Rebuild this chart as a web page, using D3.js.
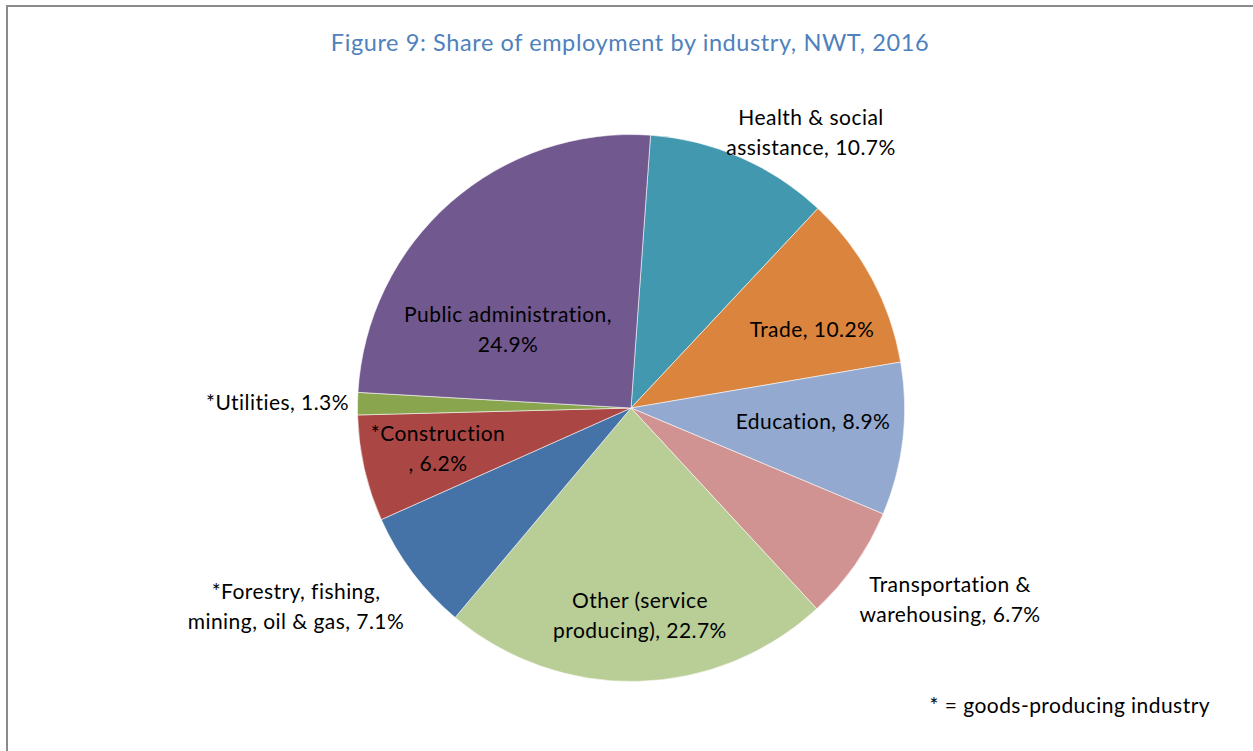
<!DOCTYPE html>
<html>
<head>
<meta charset="utf-8">
<script src="https://cdn.jsdelivr.net/npm/d3@7"></script>
<style>
  html, body { margin: 0; padding: 0; background: white; overflow: hidden; }
  text { font-family: Lato, "Open Sans", sans-serif; }
</style>
</head>
<body>
<svg></svg>
<script>
// data
const industries = [
  "Health & social assistance", "Trade", "Education", "Transportation & warehousing",
  "Other (service producing)", "*Forestry, fishing, mining, oil & gas",
  "*Construction", "*Utilities", "Public administration"
];
const shares = [10.7, 10.2, 8.9, 6.7, 22.7, 7.1, 6.2, 1.3, 24.9];
const labelLines = [
  ["Health & social", "assistance, 10.7%"],
  ["Trade, 10.2%"],
  ["Education, 8.9%"],
  ["Transportation &", "warehousing, 6.7%"],
  ["Other (service", "producing), 22.7%"],
  ["*Forestry, fishing,", "mining, oil & gas, 7.1%"],
  ["*Construction", ", 6.2%"],
  ["*Utilities, 1.3%"],
  ["Public administration,", "24.9%"]
];
const colors = ["#4198af", "#db843d", "#93a9cf", "#d19392", "#b9cd96",
                "#4572a7", "#aa4643", "#89a54e", "#71588f"];

// label anchors relative to pie centre (excel "best fit" spots)
const labelAnchor = [
  [180, -275, "middle"], [181, -78, "middle"], [182, 14, "middle"],
  [319, 192, "middle"], [9, 208, "middle"], [-335, 199, "middle"],
  [-193, 41, "middle"], [-282, -5, "end"], [-123, -78, "middle"]
];

const width = 1253, height = 751;
const cx = 631, cy = 408, radius = 273.5;
const startOffset = 4.1 * Math.PI / 180;

const svg = d3.select("svg")
  .attr("width", width)
  .attr("height", height);

// chart frame
svg.append("rect")
  .attr("x", 7).attr("y", 6)
  .attr("width", width + 20).attr("height", height + 20)
  .attr("fill", "none")
  .attr("stroke", "#8a8a8a")
  .attr("stroke-width", 2);

// title
svg.append("text")
  .attr("x", 630).attr("y", 51)
  .attr("text-anchor", "middle")
  .attr("fill", "#4f81bd")
  .attr("font-size", 23.5)
  .attr("letter-spacing", 0.6)
  .text("Figure 9: Share of employment by industry, NWT, 2016");

const pie = d3.pie()
  .sort(null)
  .value(d => d)
  .startAngle(startOffset)
  .endAngle(startOffset + 2 * Math.PI);

const arc = d3.arc().innerRadius(0).outerRadius(radius);

const g = svg.append("g").attr("transform", `translate(${cx},${cy})`);

g.selectAll(".slice")
  .data(pie(shares))
  .enter().append("path")
  .attr("class", "slice")
  .attr("d", arc)
  .attr("fill", (d, i) => colors[i])
  .attr("stroke", "#ffffff")
  .attr("stroke-opacity", 0.7)
  .attr("stroke-width", 0.8);

// labels
const lineH = 30;
const labels = g.selectAll(".label")
  .data(labelLines)
  .enter().append("text")
  .attr("class", "label")
  .attr("font-size", 21)
  .attr("letter-spacing", 0.45)
  .attr("fill", "#000")
  .attr("text-anchor", (d, i) => labelAnchor[i][2])
  .attr("transform", (d, i) => `translate(${labelAnchor[i][0]},${labelAnchor[i][1]})`);

labels.each(function(lines) {
  const t = d3.select(this);
  const y0 = -(lines.length - 1) * lineH / 2 + 7;
  lines.forEach((ln, k) => {
    t.append("tspan").attr("x", 0).attr("y", y0 + k * lineH).text(ln);
  });
});

// footnote
svg.append("text")
  .attr("x", 1210).attr("y", 713)
  .attr("text-anchor", "end")
  .attr("font-size", 21)
  .attr("letter-spacing", 0.45)
  .attr("fill", "#000")
  .text("* = goods-producing industry");
</script>
</body>
</html>
